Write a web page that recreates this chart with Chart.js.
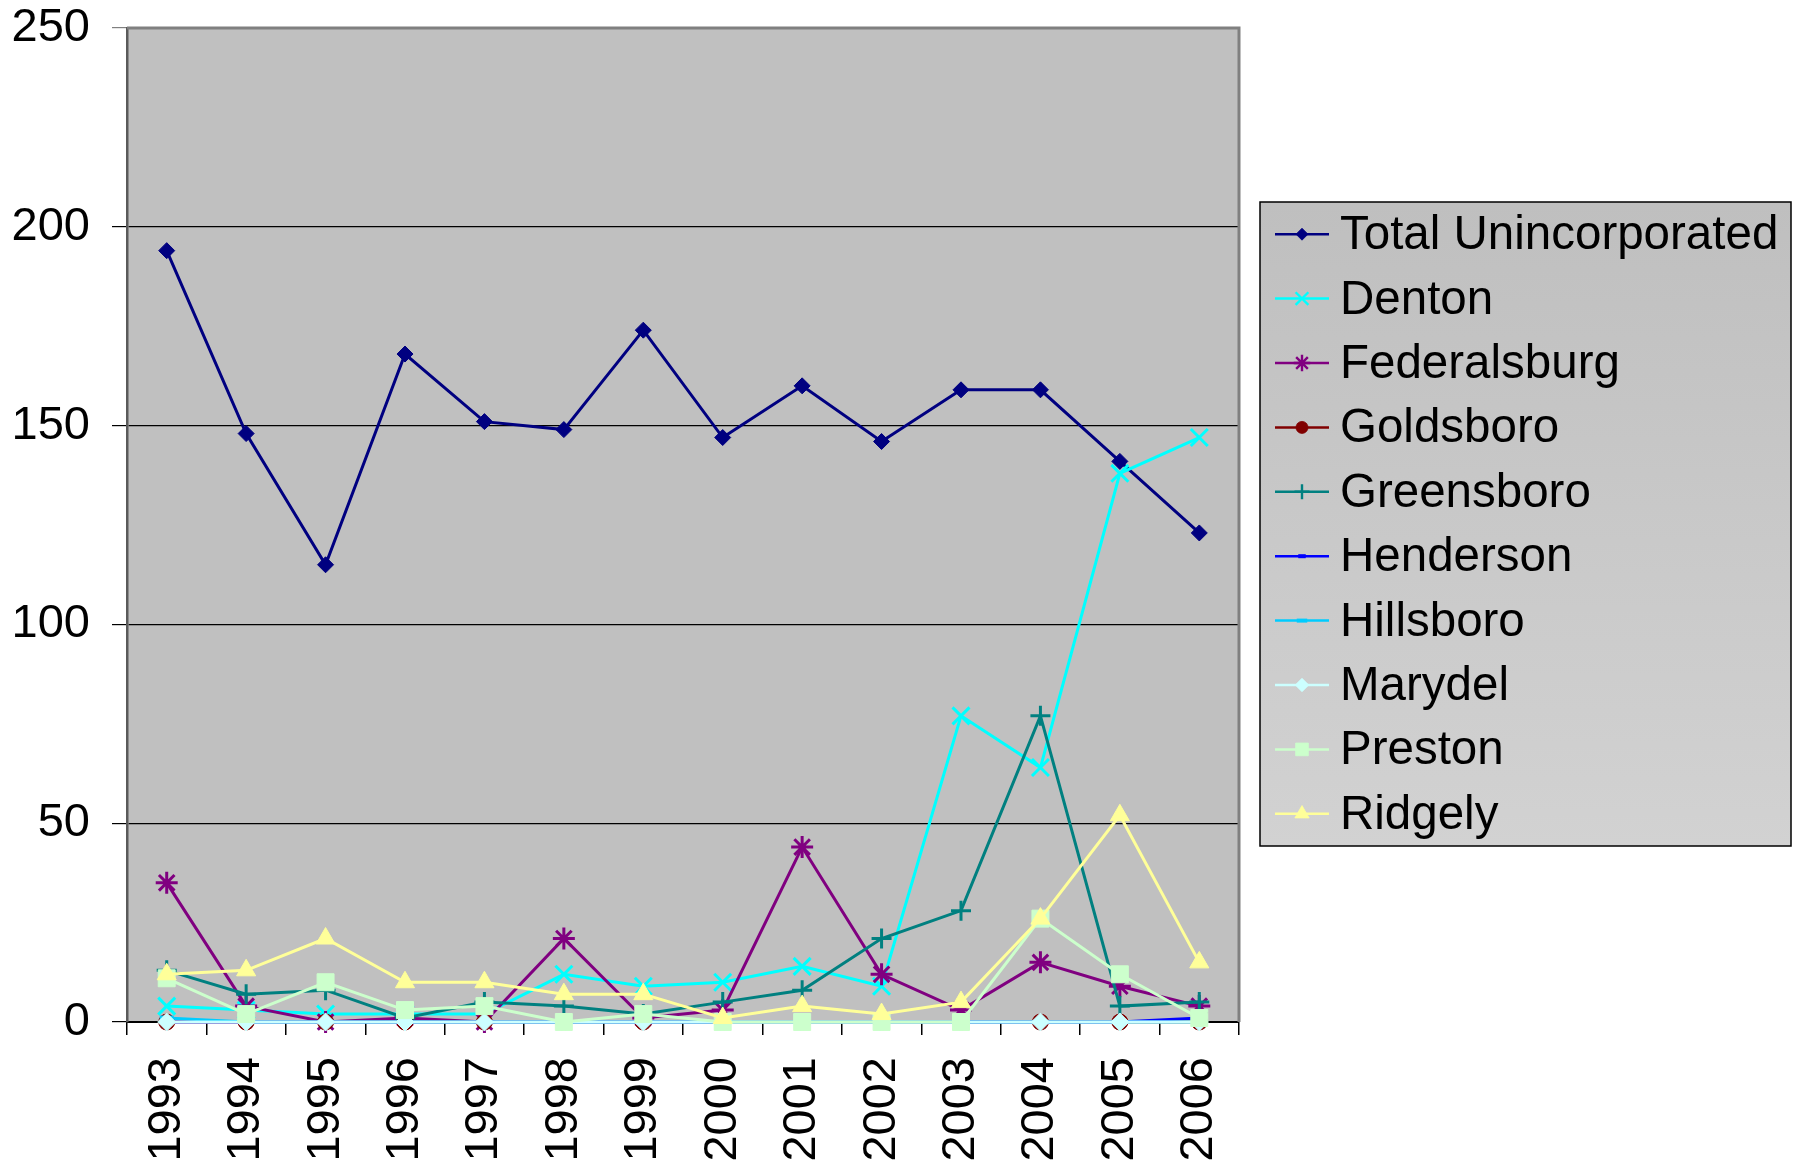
<!DOCTYPE html>
<html>
<head>
<meta charset="utf-8">
<script src="https://cdn.jsdelivr.net/npm/chart.js@4/dist/chart.umd.min.js"></script>
<style>
  html, body { margin: 0; padding: 0; background: #ffffff; }
  #wrap { width: 1804px; height: 1165px; }
</style>
</head>
<body>
<div id="wrap"><canvas id="chart" width="1804" height="1165"></canvas></div>
<script>
// data
const years = ["1993","1994","1995","1996","1997","1998","1999","2000","2001","2002","2003","2004","2005","2006"];
const totalUnincorporated = [194,148,115,168,151,149,174,147,160,146,159,159,141,123];
const denton       = [4,3,2,2,2,12,9,10,14,9,77,64,138,147];
const federalsburg = [35,4,0,1,0,21,1,3,44,12,3,15,9,4];
const goldsboro    = [0,0,0,0,0,0,0,0,0,0,0,0,0,0];
const greensboro   = [13,7,8,1,5,4,2,5,8,21,28,77,4,5];
const henderson    = [0,0,0,0,0,0,0,0,0,0,0,0,0,1];
const hillsboro    = [1,0,0,0,0,0,0,0,0,0,0,0,0,0];
const marydel      = [0,0,0,0,0,0,0,0,0,0,0,0,0,0];
const preston      = [11,2,10,3,4,0,2,0,0,0,0,26,12,1];
const ridgely      = [12,13,21,10,10,7,7,1,4,2,5,26,52,15];
const yTicks = [0,50,100,150,200,250];

const FONT = "'Liberation Sans', Arial, sans-serif";

// series list: name, values, colour, marker, marker size
const series = [
  ["Total Unincorporated", totalUnincorporated, "#000080", "rectRot", 8],
  ["Denton", denton, "#00ffff", "crossRot", 12],
  ["Federalsburg", federalsburg, "#800080", "star", 11],
  ["Goldsboro", goldsboro, "#800000", "circle", 8],
  ["Greensboro", greensboro, "#008080", "cross", 10],
  ["Henderson", henderson, "#0000ff", "line", 5],
  ["Hillsboro", hillsboro, "#00ccff", "line", 7],
  ["Marydel", marydel, "#ccffff", "rectRot", 9],
  ["Preston", preston, "#ccffcc", "rect", 12],
  ["Ridgely", ridgely, "#ffff99", "triangle", 11]
];

const datasets = series.map(function (s, i) {
  const lineMarker = s[3] === "line" || s[3] === "cross" || s[3] === "crossRot" || s[3] === "star";
  return {
    label: s[0],
    data: s[1],
    borderColor: s[2],
    backgroundColor: s[2],
    borderWidth: 3,
    pointStyle: s[3],
    pointRadius: s[4],
    pointBorderColor: s[2],
    pointBackgroundColor: s[2],
    pointBorderWidth: lineMarker ? (s[3] === "line" ? 5 : 3) : 1,
    tension: 0,
    fill: false,
    clip: false,
    order: series.length - i // later series drawn on top, like the original
  };
});

// grey plot area with border
const plotBackground = {
  id: "plotBackground",
  beforeDraw(chart) {
    const a = chart.chartArea, ctx = chart.ctx;
    ctx.save();
    ctx.fillStyle = "#c0c0c0";
    ctx.fillRect(a.left, a.top, a.right - a.left, a.bottom - a.top);
    ctx.restore();
  },
  afterDatasetsDraw(chart) {
    const a = chart.chartArea, ctx = chart.ctx;
    ctx.save();
    ctx.strokeStyle = "#808080";
    ctx.lineWidth = 3;
    ctx.beginPath();
    ctx.moveTo(a.left, a.top);
    ctx.lineTo(a.right, a.top);
    ctx.lineTo(a.right, a.bottom);
    ctx.stroke();
    ctx.restore();
  }
};

// legend box on the right
const sideLegend = {
  id: "sideLegend",
  afterDraw(chart) {
    const a = chart.chartArea, ctx = chart.ctx;
    const left = a.right + 21, top = 202, w = 531, h = 644;
    const rowH = h / series.length;
    ctx.save();
    const grad = ctx.createLinearGradient(0, top, 0, top + h);
    grad.addColorStop(0, "#bfbfbf");
    grad.addColorStop(1, "#d2d2d2");
    ctx.fillStyle = grad;
    ctx.fillRect(left, top, w, h);
    ctx.strokeStyle = "#000000";
    ctx.lineWidth = 1.5;
    ctx.strokeRect(left, top, w, h);

    ctx.font = "47.5px " + FONT;
    ctx.textBaseline = "middle";
    ctx.textAlign = "left";
    chart.data.datasets.forEach(function (ds, i) {
      const y = top + rowH * (i + 0.5);
      ctx.strokeStyle = ds.borderColor;
      ctx.lineWidth = 2.5;
      ctx.beginPath();
      ctx.moveTo(left + 15, y);
      ctx.lineTo(left + 69, y);
      ctx.stroke();
      ctx.fillStyle = ds.pointBackgroundColor;
      ctx.strokeStyle = ds.pointBorderColor;
      ctx.lineWidth = ds.pointBorderWidth * 0.8;
      Chart.helpers.drawPoint(ctx, {
        pointStyle: ds.pointStyle,
        radius: ds.pointRadius * 0.75,
        rotation: 0,
        borderWidth: ds.pointBorderWidth * 0.8
      }, left + 42, y);
      ctx.fillStyle = "#000000";
      ctx.fillText(ds.label, left + 80, y + 2);
    });
    ctx.restore();
  }
};

const ctx = document.getElementById("chart").getContext("2d");
new Chart(ctx, {
  type: "line",
  data: { labels: years, datasets: datasets },
  plugins: [plotBackground, sideLegend],
  options: {
    responsive: false,
    animation: false,
    events: [],
    layout: { padding: { top: 28, right: 565, left: 0, bottom: 0 } },
    plugins: { legend: { display: false }, tooltip: { enabled: false } },
    scales: {
      x: {
        offset: true,
        grid: {
          offset: true,
          drawOnChartArea: false,
          drawTicks: true,
          tickLength: 13,
          color: "#000000",
          lineWidth: 1.5
        },
        border: { display: true, color: "#000000", width: 2 },
        ticks: {
          minRotation: 90,
          maxRotation: 90,
          padding: 22,
          color: "#000000",
          font: { family: FONT, size: 47 }
        },
        afterFit(scale) {
          scale.height = 1165 - 1022;
          scale.paddingLeft = 0;
          scale.paddingRight = 0;
        }
      },
      y: {
        min: 0,
        max: 250,
        afterBuildTicks(scale) { scale.ticks = yTicks.map(v => ({ value: v })); },
        grid: {
          color: ctx => ctx.tick && ctx.tick.value === 250 ? "#808080" : "#000000",
          lineWidth: 1.2,
          tickLength: 15,
          drawTicks: true
        },
        border: { display: true, color: "#5a5a5a", width: 2.5 },
        ticks: {
          padding: 22,
          color: "#000000",
          font: { family: FONT, size: 47 }
        },
        afterFit(scale) {
          scale.width = 127;
          scale.paddingTop = 0;
          scale.paddingBottom = 0;
        }
      }
    }
  }
});
</script>
</body>
</html>
